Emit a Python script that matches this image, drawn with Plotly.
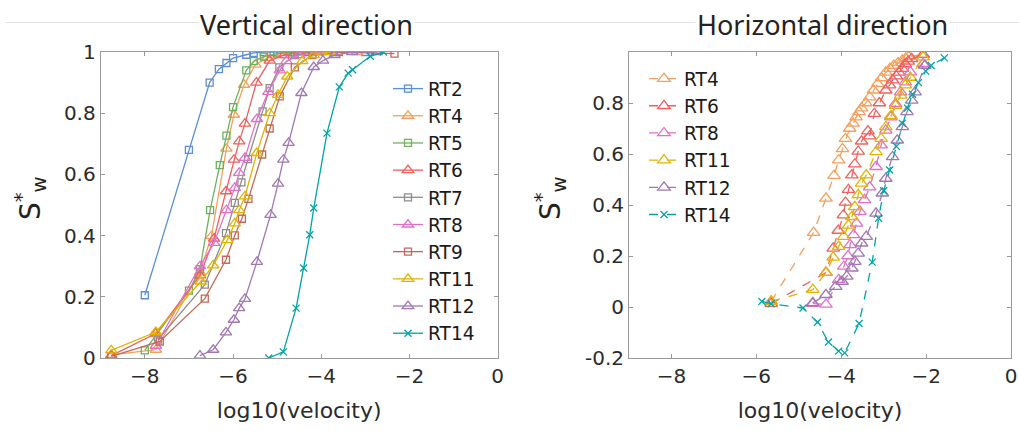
import plotly.graph_objects as go

# ---------------- data: vertical direction ----------------
v_rt2_x = [-8.0, -7.0, -6.53, -6.32, -6.15, -6.0, -5.7, -5.53, -5.3, -5.08, -4.77, -4.32, -3.72, -3.0]
v_rt2_y = [0.205, 0.68, 0.90, 0.944, 0.964, 0.98, 0.991, 0.997, 1, 1, 1, 1, 1, 1]
v_rt4_x = [-8.76, -7.75, -6.75, -6.49, -6.15, -5.98, -5.75, -5.49, -5.23, -4.9, -4.5, -4.0, -3.19]
v_rt4_y = [0.01, 0.027, 0.28, 0.398, 0.684, 0.795, 0.893, 0.959, 0.98, 0.99, 1, 1, 1]
v_rt5_x = [-8.0, -7.0, -6.75, -6.52, -6.3, -6.15, -6.0, -5.7, -5.53, -5.3, -5.0, -4.62]
v_rt5_y = [0.025, 0.22, 0.29, 0.483, 0.63, 0.727, 0.82, 0.94, 0.97, 0.985, 0.995, 1.0]
v_rt6_x = [-8.76, -7.75, -6.75, -6.43, -6.16, -5.98, -5.86, -5.73, -5.47, -5.17, -4.85, -4.5, -4.1]
v_rt6_y = [0.008, 0.08, 0.27, 0.39, 0.545, 0.648, 0.708, 0.766, 0.9, 0.972, 0.99, 1, 1]
v_rt7_x = [-7.7, -6.64, -6.16, -5.96, -5.81, -5.66, -5.33, -5.17, -4.95, -4.6, -4.2]
v_rt7_y = [0.06, 0.24, 0.408, 0.507, 0.574, 0.65, 0.806, 0.882, 0.95, 0.99, 1]
v_rt8_x = [-7.75, -6.75, -6.43, -6.15, -5.96, -5.86, -5.73, -5.46, -5.2, -4.94, -4.79, -4.5, -4.0]
v_rt8_y = [0.04, 0.30, 0.376, 0.483, 0.556, 0.605, 0.654, 0.781, 0.87, 0.94, 0.97, 0.99, 1]
v_rt9_x = [-8.76, -7.66, -6.64, -6.16, -5.96, -5.8, -5.65, -5.34, -5.17, -4.94, -4.6, -4.2, -3.6, -2.34]
v_rt9_y = [0.005, 0.054, 0.194, 0.321, 0.401, 0.455, 0.52, 0.665, 0.75, 0.855, 0.95, 0.99, 1, 0.995]
v_rt11_x = [-8.76, -7.75, -6.73, -6.45, -6.13, -5.96, -5.86, -5.73, -5.46, -5.17, -4.98, -4.77, -4.43, -4.17, -3.8]
v_rt11_y = [0.025, 0.085, 0.25, 0.303, 0.385, 0.44, 0.483, 0.528, 0.67, 0.8, 0.86, 0.92, 0.97, 0.99, 1]
v_rt12_x = [-6.75, -6.45, -6.16, -5.98, -5.86, -5.73, -5.46, -5.15, -4.98, -4.86, -4.74, -4.45, -4.17, -3.96, -3.7, -3.3, -2.74]
v_rt12_y = [0.008, 0.027, 0.084, 0.125, 0.163, 0.193, 0.314, 0.468, 0.57, 0.648, 0.703, 0.866, 0.951, 0.972, 0.99, 1, 1]
v_rt14_x = [-5.19, -4.86, -4.57, -4.4, -4.26, -4.17, -3.87, -3.59, -3.39, -3.29, -2.89, -2.59]
v_rt14_y = [0.0, 0.02, 0.163, 0.294, 0.403, 0.49, 0.735, 0.886, 0.931, 0.942, 0.986, 1.0]

# ---------------- data: horizontal direction ----------------
h_rt4_x = [-5.65, -4.65, -4.36, -4.17, -4.06, -3.97, -3.9, -3.8, -3.72, -3.65, -3.58, -3.52, -3.42, -3.33, -3.24,
           -3.14, -3.05, -2.95, -2.85, -2.76, -2.66, -2.56, -2.48, -2.41, -2.07]
h_rt4_y = [0.022, 0.292, 0.426, 0.515, 0.576, 0.62, 0.66, 0.70, 0.72, 0.745, 0.765, 0.78, 0.80, 0.823, 0.85,
           0.876, 0.898, 0.92, 0.935, 0.947, 0.957, 0.967, 0.975, 0.982, 0.99]
h_rt6_x = [-5.65, -4.36, -4.19, -4.07, -3.95, -3.9, -3.83, -3.75, -3.68, -3.6, -3.52, -3.37, -3.33, -3.22, -3.1,
           -2.95, -2.86, -2.79, -2.7, -2.64, -2.56, -2.49, -2.42, -2.34, -2.07]
h_rt6_y = [0.013, 0.135, 0.23, 0.30, 0.36, 0.41, 0.46, 0.517, 0.56, 0.61, 0.65, 0.69, 0.67, 0.758, 0.80,
           0.85, 0.87, 0.89, 0.905, 0.92, 0.935, 0.953, 0.963, 0.973, 0.99]
h_rt8_x = [-4.67, -4.36, -4.06, -3.94, -3.84, -3.79, -3.71, -3.64, -3.56, -3.45, -3.33, -3.18, -3.06, -2.95,
           -2.83, -2.72, -2.6, -2.49, -2.37, -2.07]
h_rt8_y = [0.013, 0.01, 0.107, 0.159, 0.2, 0.244, 0.283, 0.328, 0.374, 0.42, 0.47, 0.55, 0.635, 0.693,
           0.745, 0.797, 0.843, 0.882, 0.921, 0.954]
h_rt11_x = [-5.65, -4.67, -4.36, -4.19, -4.06, -3.94, -3.83, -3.75, -3.68, -3.6, -3.52, -3.41, -3.18, -3.06,
            -2.95, -2.83, -2.72, -2.6, -2.49, -2.37, -2.07]
h_rt11_y = [0.022, 0.068, 0.135, 0.195, 0.237, 0.276, 0.32, 0.354, 0.393, 0.44, 0.485, 0.517, 0.608, 0.66,
            0.706, 0.75, 0.79, 0.83, 0.87, 0.90, 0.98]
h_rt12_x = [-4.67, -4.36, -4.13, -3.98, -3.87, -3.75, -3.68, -3.6, -3.52, -3.41, -3.18, -3.03, -2.95, -2.79,
            -2.68, -2.56, -2.45, -2.34, -2.26, -2.03]
h_rt12_y = [0.016, 0.048, 0.08, 0.10, 0.12, 0.152, 0.178, 0.21, 0.25, 0.276, 0.367, 0.446, 0.504, 0.589,
            0.654, 0.706, 0.765, 0.81, 0.843, 0.947]
h_rt14_x = [-5.87, -5.65, -4.9, -4.56, -4.3, -4.06, -3.92, -3.58, -3.27, -3.12, -3.0, -2.86, -2.7, -2.56,
            -2.44, -2.32, -2.18, -2.01, -1.88, -1.57]
h_rt14_y = [0.022, 0.013, -0.004, -0.06, -0.137, -0.173, -0.18, -0.065, 0.176, 0.348, 0.456, 0.537, 0.63, 0.72,
            0.78, 0.834, 0.88, 0.925, 0.947, 0.977]

x_ticks = [-8, -6, -4, -2, 0]
v_y_ticks = [0, 0.2, 0.4, 0.6, 0.8, 1]
h_y_ticks = [-0.2, 0, 0.2, 0.4, 0.6, 0.8]
v_y_ticklabels = ["0", "0.2", "0.4", "0.6", "0.8", "1"]
h_y_ticklabels = ["-0.2", "0", "0.2", "0.4", "0.6", "0.8"]

colors = {
    "RT2": "#5B8FD4", "RT4": "#F5A05C", "RT5": "#6DB05C", "RT6": "#F0605E", "RT7": "#8C8C8C",
    "RT8": "#E070C8", "RT9": "#C46A58", "RT11": "#E2B400", "RT12": "#A078B4", "RT14": "#00A3A6",
}
symbols = {
    "RT2": "square-open", "RT4": "triangle-up-open", "RT5": "square-open", "RT6": "triangle-up-open",
    "RT7": "square-open", "RT8": "triangle-up-open", "RT9": "square-open", "RT11": "triangle-up-open",
    "RT12": "triangle-up-open", "RT14": "x-thin-open",
}

vertical = [
    ("RT2", v_rt2_x, v_rt2_y), ("RT4", v_rt4_x, v_rt4_y), ("RT5", v_rt5_x, v_rt5_y),
    ("RT6", v_rt6_x, v_rt6_y), ("RT7", v_rt7_x, v_rt7_y), ("RT8", v_rt8_x, v_rt8_y),
    ("RT9", v_rt9_x, v_rt9_y), ("RT11", v_rt11_x, v_rt11_y), ("RT12", v_rt12_x, v_rt12_y),
    ("RT14", v_rt14_x, v_rt14_y),
]
horizontal = [
    ("RT4", h_rt4_x, h_rt4_y), ("RT6", h_rt6_x, h_rt6_y), ("RT8", h_rt8_x, h_rt8_y),
    ("RT11", h_rt11_x, h_rt11_y), ("RT12", h_rt12_x, h_rt12_y), ("RT14", h_rt14_x, h_rt14_y),
]

fig = go.Figure()


def msize(name, big=False):
    if symbols[name].startswith("square"):
        return 7
    if symbols[name].startswith("x"):
        return 7
    return 11 if big else 10


for name, xs, ys in vertical:
    c = colors[name]
    fig.add_trace(go.Scatter(
        x=xs, y=ys, name=name, mode="lines+markers", xaxis="x", yaxis="y", legend="legend",
        line=dict(color=c, width=1.3),
        marker=dict(symbol=symbols[name], size=msize(name), color=c, line=dict(color=c, width=1.3)),
    ))

for name, xs, ys in horizontal:
    c = colors[name]
    fig.add_trace(go.Scatter(
        x=xs, y=ys, name=name, mode="lines+markers", xaxis="x2", yaxis="y2", legend="legend2",
        line=dict(color=c, width=1.3, dash="dash"),
        marker=dict(symbol=symbols[name], size=msize(name, True), color=c, line=dict(color=c, width=1.3)),
    ))

W, H = 1019, 431
axis_color = "#9a9a9a"
FONT = "DejaVu Sans"
tick_font = dict(family=FONT, size=20, color="#2b2b2b")

common_x = dict(range=[-9, 0], tickvals=x_ticks, ticks="inside", ticklen=4, tickcolor=axis_color,
                showline=True, linecolor=axis_color, linewidth=1, mirror="ticks", showgrid=False,
                zeroline=False, tickfont=tick_font, automargin=False, ticklabeloverflow="allow",
                title=dict(text="log10(velocity)", font=dict(family=FONT, size=22, color="#2b2b2b"),
                           standoff=15))
common_y = dict(ticks="inside", ticklen=4, tickcolor=axis_color, showline=True, linecolor=axis_color,
                linewidth=1, mirror="ticks", showgrid=False, zeroline=False, tickfont=tick_font,
                automargin=False)

y_top = 1 - 52 / H
y_bot = 1 - 358 / H

fig.update_layout(
    width=W, height=H, margin=dict(l=0, r=0, t=0, b=0, autoexpand=False),
    paper_bgcolor="white", plot_bgcolor="white",
    xaxis=dict(domain=[100.7 / W, 497.7 / W], anchor="y", **common_x),
    yaxis=dict(domain=[y_bot, y_top], anchor="x", range=[0, 1], tickvals=v_y_ticks,
               ticktext=v_y_ticklabels, **common_y),
    xaxis2=dict(domain=[629 / W, 1011 / W], anchor="y2", **common_x),
    yaxis2=dict(domain=[y_bot, y_top], anchor="x2", range=[-0.2, 1.0], tickvals=h_y_ticks,
                ticktext=h_y_ticklabels, **common_y),
    legend=dict(x=388 / W, y=1 - 70 / H, xanchor="left", yanchor="top", bgcolor="rgba(255,255,255,0)",
                font=dict(family=FONT, size=18.6, color="#1a1a1a"), borderwidth=0),
    legend2=dict(x=644 / W, y=1 - 60 / H, xanchor="left", yanchor="top", bgcolor="rgba(255,255,255,0)",
                 font=dict(family=FONT, size=18.6, color="#1a1a1a"), borderwidth=0),
    shapes=[dict(type="line", xref="paper", yref="paper", x0=6 / W, x1=1, y0=1 - 22.5 / H, y1=1 - 22.5 / H,
                 line=dict(color="#e2e2e2", width=1), layer="below")],
    annotations=[
        dict(text="Vertical direction", x=306 / W, y=1 - 25 / H, xref="paper", yref="paper",
             xanchor="center", yanchor="middle", showarrow=False,
             font=dict(family="Noto Sans", size=27, color="#222"), bgcolor="white"),
        dict(text="Horizontal direction", x=822 / W, y=1 - 25 / H, xref="paper", yref="paper",
             xanchor="center", yanchor="middle", showarrow=False,
             font=dict(family="Noto Sans", size=27, color="#222"), bgcolor="white"),
        dict(text="S<sup>*</sup><sub>w</sub>", x=31 / W, y=1 - 198 / H, xref="paper", yref="paper",
             xanchor="center", yanchor="middle", showarrow=False, textangle=-90,
             font=dict(family=FONT, size=28, color="#222")),
        dict(text="S<sup>*</sup><sub>w</sub>", x=551 / W, y=1 - 198 / H, xref="paper", yref="paper",
             xanchor="center", yanchor="middle", showarrow=False, textangle=-90,
             font=dict(family=FONT, size=28, color="#222")),
    ],
)

fig.write_html("out.html")
